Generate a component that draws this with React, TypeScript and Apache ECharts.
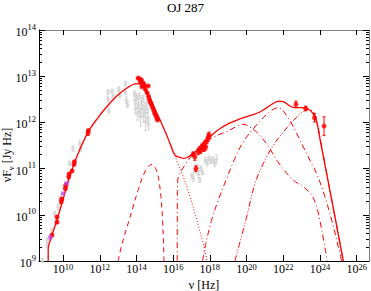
import React, { useEffect, useRef } from "react";
import * as echarts from "echarts";

// All values are log10: [log10(nu / Hz), log10(nuFnu / Jy Hz)]
const xTickValues = [10, 12, 14, 16, 18, 20, 22, 24, 26];
const yTickValues = [9, 10, 11, 12, 13, 14];

const totalModel: [number, number][] = [
  [9.19, 9.0], [9.19, 9.25], [9.25, 9.38], [9.4, 9.56], [9.7, 9.93], [10.0, 10.33], [10.3, 10.75],
  [10.6, 11.1], [10.9, 11.4], [11.2, 11.66], [11.5, 11.88], [11.9, 12.1], [12.3, 12.3], [12.7, 12.48],
  [13.1, 12.63], [13.5, 12.75], [13.8, 12.82], [14.05, 12.84], [14.25, 12.81], [14.5, 12.71],
  [14.75, 12.53], [15.0, 12.3], [15.3, 12.04], [15.6, 11.77], [15.85, 11.52], [16.05, 11.32],
  [16.2, 11.26], [16.35, 11.25], [16.55, 11.22], [16.75, 11.24], [17.0, 11.3], [17.3, 11.4],
  [17.6, 11.52], [17.9, 11.64], [18.2, 11.76], [18.6, 11.88], [19.1, 11.99], [19.6, 12.07],
  [20.2, 12.15], [20.7, 12.22], [21.1, 12.32], [21.45, 12.41], [21.75, 12.46], [22.0, 12.45],
  [22.3, 12.37], [22.6, 12.32], [23.0, 12.32], [23.35, 12.29], [23.6, 12.2], [23.8, 12.04],
  [24.0, 11.64], [24.3, 11.02], [24.6, 10.4], [24.9, 9.78], [25.15, 9.25], [25.27, 9.0],
];

const diskModel: [number, number][] = [
  [13.0, 9.0], [13.2, 9.35], [13.5, 9.75], [13.8, 10.15], [14.1, 10.55], [14.4, 10.88],
  [14.65, 11.05], [14.85, 11.09], [15.05, 11.0], [15.2, 10.8], [15.33, 10.4], [15.42, 9.9],
  [15.48, 9.3], [15.5, 9.0],
];

const synchrotronTail: [number, number][] = [
  [15.85, 11.52], [16.05, 11.32], [16.25, 11.12], [16.5, 10.88], [16.8, 10.55], [17.1, 10.15],
  [17.4, 9.72], [17.65, 9.36], [17.85, 9.0],
];

const sscModel: [number, number][] = [
  [16.22, 9.0], [16.23, 10.5], [16.26, 10.78], [16.45, 10.96], [16.8, 11.17], [17.1, 11.32],
  [17.8, 11.58], [18.4, 11.72], [18.9, 11.8], [19.45, 11.91], [19.8, 11.96], [20.1, 11.92],
  [20.6, 11.77], [21.2, 11.47], [21.7, 11.15], [22.2, 10.89], [22.65, 10.72], [23.2, 10.57],
  [23.55, 10.42], [23.82, 10.17], [24.1, 9.66], [24.4, 9.0],
];

const ecDiskModel: [number, number][] = [
  [17.6, 9.0], [17.78, 9.38], [18.09, 9.88], [18.45, 10.31], [18.91, 10.78], [19.36, 11.22],
  [19.82, 11.58], [20.36, 11.86], [20.91, 12.1], [21.36, 12.26], [21.73, 12.32], [22.18, 12.15],
  [22.64, 11.83], [23.09, 11.47], [23.45, 11.18], [23.82, 10.89], [24.27, 10.39], [24.64, 9.88],
  [25.0, 9.3], [25.18, 9.0],
];

const ecBlrModel: [number, number][] = [
  [19.36, 9.0], [19.64, 9.41], [20.0, 9.95], [20.45, 10.67], [20.91, 11.11], [21.45, 11.5],
  [22.0, 11.79], [22.55, 12.04], [23.0, 12.21], [23.36, 12.28], [23.63, 12.23], [23.82, 12.04],
  [24.0, 11.68], [24.27, 11.1], [24.54, 10.53], [24.82, 9.95], [25.09, 9.38], [25.27, 9.0],
];

// [log nu, log nuFnu, error in dex]
const redRadio: [number, number, number][] = [
  [9.4, 9.56, 0.03], [9.67, 9.84, 0.03], [9.67, 9.95, 0.03], [9.9, 10.28, 0.03], [9.93, 10.34, 0.03],
  [10.13, 10.57, 0.03], [10.15, 10.64, 0.03], [10.31, 10.82, 0.03], [10.33, 10.88, 0.03],
  [10.49, 10.95, 0.02], [10.6, 11.09, 0.02], [10.62, 11.15, 0.02], [11.36, 11.77, 0.05],
  [11.38, 11.82, 0.03],
];
const redOptical: [number, number, number][] = [
  [14.09, 12.96, 0.01], [14.16, 12.94, 0.01], [14.27, 12.92, 0.01], [14.22, 12.87, 0.01],
  [14.38, 12.85, 0.01], [14.45, 12.79, 0.01], [14.3, 12.77, 0.01], [14.64, 12.79, 0.01],
  [14.49, 12.71, 0.01], [14.58, 12.64, 0.01], [14.66, 12.56, 0.01], [14.71, 12.49, 0.01],
  [14.76, 12.43, 0.01], [14.82, 12.38, 0.01], [14.88, 12.32, 0.01], [14.94, 12.26, 0.01],
  [14.99, 12.2, 0.01], [15.05, 12.15, 0.01], [15.11, 12.09, 0.01], [15.15, 12.05, 0.01],
];
const redXray: [number, number, number][] = [
  [17.09, 11.31, 0.05], [17.18, 11.25, 0.07], [17.24, 11.0, 0.06], [17.36, 11.36, 0.06],
  [17.42, 11.41, 0.06], [17.49, 11.38, 0.05], [17.55, 11.47, 0.06], [17.64, 11.5, 0.06],
  [17.67, 11.43, 0.06], [17.73, 11.55, 0.06], [17.78, 11.47, 0.07], [17.85, 11.61, 0.06],
  [17.91, 11.68, 0.08], [17.96, 11.72, 0.07],
];
const redGamma: [number, number, number][] = [
  [22.69, 12.39, 0.07], [23.22, 12.3, 0.05], [23.7, 12.1, 0.09], [24.22, 11.92, 0.2],
];
const magentaRadio: [number, number][] = [
  [9.31, 9.51], [10.0, 10.46], [10.18, 10.68],
];
const grayArchive: [number, number, number][] = [
  [8.87, 9.01, 0.04], [9.14, 9.34, 0.05], [9.14, 9.45, 0.05], [9.4, 9.66, 0.05], [9.54, 10.02, 0.05],
  [9.73, 10.17, 0.05], [9.82, 10.35, 0.05], [10.05, 10.6, 0.05], [10.27, 10.71, 0.05],
  [10.36, 11.11, 0.05], [10.54, 11.43, 0.06], [10.91, 11.54, 0.08], [10.96, 11.43, 0.06],
  [12.45, 12.66, 0.05], [12.45, 12.51, 0.06], [12.49, 12.26, 0.06], [12.67, 12.67, 0.05],
  [12.73, 12.55, 0.05], [13.04, 12.72, 0.05], [13.09, 12.59, 0.06], [13.4, 12.84, 0.05],
  [13.4, 12.66, 0.06], [13.45, 12.48, 0.07], [13.51, 12.38, 0.06],
  [13.9, 12.62, 0.06], [13.92, 12.48, 0.1], [13.95, 12.3, 0.12], [14.0, 12.55, 0.08],
  [14.05, 12.2, 0.15], [14.1, 12.4, 0.1], [14.15, 12.58, 0.06], [14.18, 12.25, 0.12],
  [14.22, 12.12, 0.2], [14.27, 12.45, 0.08], [14.3, 12.3, 0.1], [14.35, 12.52, 0.06],
  [14.38, 12.15, 0.15], [14.42, 12.35, 0.08], [14.47, 12.2, 0.1], [14.5, 12.02, 0.2],
  [14.55, 12.42, 0.07], [14.58, 12.28, 0.08], [14.62, 12.1, 0.1], [14.66, 11.95, 0.1],
  [17.02, 10.85, 0.05], [17.1, 10.78, 0.06], [17.2, 10.95, 0.05], [17.3, 11.02, 0.06],
  [17.38, 10.88, 0.08], [17.45, 10.75, 0.05], [17.5, 11.0, 0.06], [17.6, 10.92, 0.05],
  [17.75, 11.18, 0.06], [17.85, 11.12, 0.06], [17.95, 11.22, 0.05], [18.05, 11.15, 0.05],
  [18.15, 11.2, 0.06], [18.25, 11.12, 0.08], [18.35, 11.2, 0.1],
];

const RED = "#ff0000";
const GRAY = "#d4d4d4";
const SERIF = "'Liberation Serif', 'Times New Roman', serif";

function minorValues(): number[] {
  const out: number[] = [];
  for (let n = 9; n < 14; n++) {
    for (let k = 2; k <= 9; k++) out.push(n + Math.log10(k));
  }
  return out;
}

function errorSeries(data: [number, number, number][], color: string, z: number) {
  return {
    type: "custom",
    z,
    silent: true,
    data: data.map((d) => [d[0], d[1] - d[2], d[1] + d[2]]),
    renderItem: (params: any, api: any) => {
      const x = api.value(0);
      const p1 = api.coord([x, api.value(1)]);
      const p2 = api.coord([x, api.value(2)]);
      return {
        type: "group",
        children: [
          { type: "line", shape: { x1: p1[0], y1: p1[1], x2: p2[0], y2: p2[1] }, style: { stroke: color, lineWidth: 1 } },
          { type: "line", shape: { x1: p1[0] - 1.5, y1: p1[1], x2: p1[0] + 1.5, y2: p1[1] }, style: { stroke: color, lineWidth: 1 } },
          { type: "line", shape: { x1: p2[0] - 1.5, y1: p2[1], x2: p2[0] + 1.5, y2: p2[1] }, style: { stroke: color, lineWidth: 1 } },
        ],
      };
    },
  };
}

function lineSeries(data: [number, number][], type: any, width: number) {
  return {
    type: "line",
    data,
    showSymbol: false,
    smooth: 0.35,
    silent: true,
    z: 3,
    lineStyle: { color: RED, width, type },
  };
}

const yLabelRich = {
  a: { fontFamily: SERIF, fontSize: 12, color: "#000", verticalAlign: "bottom", lineHeight: 16 },
  b: { fontFamily: SERIF, fontSize: 8.5, color: "#000", verticalAlign: "top", lineHeight: 16 },
};
const xLabelRich = {
  a: { fontFamily: SERIF, fontSize: 12, color: "#000", verticalAlign: "bottom", lineHeight: 13 },
  b: { fontFamily: SERIF, fontSize: 8.5, color: "#000", verticalAlign: "top", lineHeight: 13 },
};

export default function App() {
  const ref = useRef<HTMLDivElement>(null);
  useEffect(() => {
    document.body.style.margin = "0";
    const chart = echarts.init(ref.current!, undefined, { renderer: "svg" });
    const minors = minorValues();
    const fmt = (v: number) => `{a|10}{b|${Math.round(v)}}`;
    chart.setOption({
      animation: false,
      backgroundColor: "#fff",
      grid: { left: 39, right: 2, top: 30, bottom: 30 },
      xAxis: [
        {
          type: "value", position: "bottom", min: 8.69, max: 26.67,
          axisLine: { show: true, lineStyle: { color: "#000", width: 1 } },
          axisTick: { show: true, inside: true, length: 6, customValues: xTickValues, lineStyle: { color: "#000" } },
          axisLabel: { show: true, customValues: xTickValues, formatter: fmt, rich: xLabelRich, margin: 1 },
          splitLine: { show: false },
        },
        {
          type: "value", position: "top", min: 8.69, max: 26.67,
          axisLine: { show: true, lineStyle: { color: "#808080", width: 1 } },
          axisTick: { show: true, inside: true, length: 5, customValues: xTickValues, lineStyle: { color: "#000" } },
          axisLabel: { show: false },
          splitLine: { show: false },
        },
      ],
      yAxis: [
        {
          type: "value", position: "left", min: 9, max: 14, interval: 1,
          axisLine: { show: true, lineStyle: { color: "#000", width: 1 } },
          axisTick: { show: true, inside: true, length: 6, customValues: yTickValues, lineStyle: { color: "#000" } },
          axisLabel: { show: true, customValues: yTickValues, formatter: fmt, rich: yLabelRich, margin: 3 },
          splitLine: { show: false },
        },
        {
          type: "value", position: "left", min: 9, max: 14,
          axisLine: { show: false },
          axisTick: { show: true, inside: true, length: 3, customValues: minors, lineStyle: { color: "#000" } },
          axisLabel: { show: false },
          splitLine: { show: false },
        },
        {
          type: "value", position: "right", min: 9, max: 14, interval: 1,
          axisLine: { show: true, lineStyle: { color: "#808080", width: 1 } },
          axisTick: { show: true, inside: true, length: 6, lineStyle: { color: "#000" } },
          axisLabel: { show: false },
          splitLine: { show: false },
        },
        {
          type: "value", position: "right", min: 9, max: 14,
          axisLine: { show: false },
          axisTick: { show: true, inside: true, length: 3, customValues: minors, lineStyle: { color: "#000" } },
          axisLabel: { show: false },
          splitLine: { show: false },
        },
      ],
      graphic: [
        { type: "text", left: "center", top: 1, style: { text: "OJ 287", font: `13px ${SERIF}`, fill: "#000" } },
        { type: "text", x: 204, y: 285, style: { text: "ν [Hz]", font: `12px ${SERIF}`, fill: "#000", align: "center", verticalAlign: "middle" } },
        {
          type: "text", x: 8, y: 155, rotation: Math.PI / 2,
          style: {
            text: "{a|νF}{s|ν}{a| [Jy Hz]}", align: "center", verticalAlign: "middle", fill: "#000",
            rich: {
              a: { fontFamily: SERIF, fontSize: 12, verticalAlign: "top", lineHeight: 14 },
              s: { fontFamily: SERIF, fontSize: 8.5, verticalAlign: "bottom", lineHeight: 14 },
            },
          },
        },
      ],
      series: [
        errorSeries(grayArchive, GRAY, 1),
        { type: "scatter", data: grayArchive.map((d) => [d[0], d[1]]), symbol: "circle", symbolSize: 4, itemStyle: { color: GRAY }, silent: true, z: 1 },
        lineSeries(totalModel, "solid", 1.3),
        lineSeries(diskModel, [5, 4], 1),
        lineSeries(synchrotronTail, [1, 2], 1),
        lineSeries(sscModel, [6, 3, 1, 3], 1),
        lineSeries(ecDiskModel, [6, 3, 1, 3], 1),
        lineSeries(ecBlrModel, [6, 2, 1, 2, 1, 2], 1),
        errorSeries(redRadio, RED, 4),
        errorSeries(redOptical, RED, 4),
        errorSeries(redXray, RED, 4),
        errorSeries(redGamma, RED, 4),
        {
          type: "scatter", silent: true, z: 5, symbol: "circle", symbolSize: 5, itemStyle: { color: RED },
          data: [...redRadio, ...redOptical, ...redXray, ...redGamma].map((d) => [d[0], d[1]]),
        },
        { type: "scatter", silent: true, z: 6, symbol: "rect", symbolSize: 4, itemStyle: { color: "#c040f0" }, data: magentaRadio },
      ],
    });
    return () => chart.dispose();
  }, []);
  return <div ref={ref} style={{ width: 371, height: 291 }} />;
}
